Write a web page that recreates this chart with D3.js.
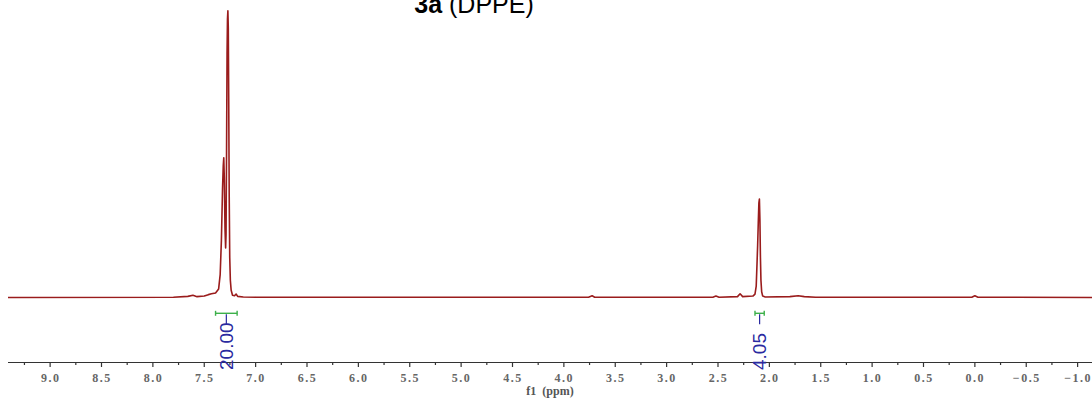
<!DOCTYPE html>
<html><head><meta charset="utf-8">
<script src="https://cdn.jsdelivr.net/npm/d3@7"></script>
<style>html,body{margin:0;padding:0;background:#fff;overflow:hidden}</style>
</head><body>
<svg id="chart" width="1092" height="401"></svg>
<script>
// spectrum points: chemical shift (ppm) and relative intensity
const shiftPpm = [9.41, 7.80, 7.66, 7.61, 7.57, 7.50, 7.46, 7.43, 7.39, 7.36, 7.345, 7.333, 7.322, 7.315, 7.31, 7.305, 7.298, 7.292, 7.288, 7.283, 7.278, 7.274, 7.27, 7.266, 7.262, 7.257, 7.252, 7.246, 7.238, 7.225, 7.205, 7.19, 7.175, 7.12, 7.0, 3.76, 3.725, 3.70, 2.55, 2.52, 2.49, 2.31, 2.285, 2.26, 2.16, 2.14, 2.128, 2.12, 2.114, 2.108, 2.102, 2.097, 2.092, 2.087, 2.082, 2.075, 2.065, 2.04, 1.80, 1.72, 1.66, 1.55, 0.03, 0.0, -0.03, -1.14];
const intensity = [0, 0.1, 0.4, 0.8, 0.3, 0.5, 1.0, 1.3, 1.6, 3, 8, 20, 38, 46, 48.7, 42, 24, 17.3, 22, 50, 85, 97, 100, 94, 70, 35, 14, 6, 2.5, 0.8, 0.6, 1.2, 0.4, 0.2, 0.1, 0.1, 0.6, 0.1, 0.1, 0.5, 0.1, 0.3, 1.3, 0.3, 0.5, 1.2, 4, 12, 18.3, 26, 33, 34.3, 27, 14, 6, 2, 0.5, 0.2, 0.3, 0.6, 0.3, 0.1, 0.1, 0.6, 0.1, 0];
const tickValues = [9.0, 8.5, 8.0, 7.5, 7.0, 6.5, 6.0, 5.5, 5.0, 4.5, 4.0, 3.5, 3.0, 2.5, 2.0, 1.5, 1.0, 0.5, 0.0, -0.5, -1.0];
const tickLabels = ["9.0","8.5","8.0","7.5","7.0","6.5","6.0","5.5","5.0","4.5","4.0","3.5","3.0","2.5","2.0","1.5","1.0","0.5","0.0","\u22120.5","\u22121.0"];
const integralFrom = [7.39, 2.14];
const integralTo = [7.18, 2.05];
const integralLabels = ["20.00", "4.05"];
const titleBold = "3a";
const titleRest = " (DPPE)";
const axisTitle = "f1  (ppm)";

const svg = d3.select("#chart");
const x = d3.scaleLinear().domain([9.41, -1.14]).range([8, 1092]);
const y = d3.scaleLinear().domain([0, 100]).range([297.5, 10.7]);

// spectrum
const pts = shiftPpm.map((p, i) => [p, intensity[i]]);
svg.append("path")
  .datum(pts)
  .attr("fill", "none")
  .attr("stroke", "#9a1c1c")
  .attr("stroke-width", 1.6)
  .attr("stroke-linejoin", "round")
  .attr("d", d3.line().x(d => x(d[0])).y(d => y(d[1])));

// axis
const axisY = 362.5;
const ax = svg.append("g").attr("transform", `translate(0,${axisY})`);
ax.append("line").attr("x1", 8).attr("x2", 1092).attr("stroke", "#333").attr("stroke-width", 1.2);
const minor = d3.range(0, 21).map(i => 9.25 - i * 0.5).filter(v => v > -1.14);
ax.selectAll("line.minor").data(minor).join("line").attr("class", "minor")
  .attr("x1", d => x(d)).attr("x2", d => x(d)).attr("y1", 0).attr("y2", 2.5)
  .attr("stroke", "#333").attr("stroke-width", 1.2);
ax.selectAll("line.major").data(tickValues).join("line").attr("class", "major")
  .attr("x1", d => x(d)).attr("x2", d => x(d)).attr("y1", 0).attr("y2", 4.5)
  .attr("stroke", "#333").attr("stroke-width", 1.2);
ax.selectAll("text.tl").data(tickValues).join("text").attr("class", "tl")
  .attr("x", d => x(d) + 0.5).attr("y", 19)
  .attr("text-anchor", "middle")
  .attr("font-family", "'Liberation Serif', 'DejaVu Serif', serif")
  .attr("font-size", 12)
  .attr("font-weight", "bold")
  .attr("letter-spacing", "1.5px")
  .attr("fill", "#666")
  .text((d, i) => tickLabels[i]);
svg.append("text").attr("x", 550).attr("y", 394.5).attr("text-anchor", "middle")
  .attr("font-family", "'Liberation Serif', 'DejaVu Serif', serif").attr("font-size", 12)
  .attr("font-weight", "bold")
  .attr("fill", "#555").attr("xml:space", "preserve").text(axisTitle);

// integrals
const bracketY = 313.3;
integralFrom.forEach((f, i) => {
  const x1 = x(f), x2 = x(integralTo[i]);
  const g = svg.append("g");
  g.append("line").attr("x1", x1).attr("x2", x2).attr("y1", bracketY).attr("y2", bracketY).attr("stroke", "#3db04a").attr("stroke-width", 1.4);
  [x1, x2].forEach(xx => g.append("line").attr("x1", xx).attr("x2", xx).attr("y1", bracketY - 2.5).attr("y2", bracketY + 2.5).attr("stroke", "#3db04a").attr("stroke-width", 1.4));
  const cx = (x1 + x2) / 2;
  g.append("line").attr("x1", cx).attr("x2", cx).attr("y1", bracketY + 1).attr("y2", bracketY + 11).attr("stroke", "#2a2aa0").attr("stroke-width", 1.2);
  g.append("text")
    .attr("transform", `translate(${cx + 6.5},370) rotate(-90)`)
    .attr("font-family", "'Liberation Sans', Arial, sans-serif")
    .attr("font-size", 19)
    .attr("fill", "#2a2aa0")
    .text(integralLabels[i]);
});

// title (clipped at top, as in the reference)
const t = svg.append("text").attr("x", 474).attr("y", 12.5).attr("text-anchor", "middle")
  .attr("font-family", "'Liberation Sans', Arial, sans-serif").attr("font-size", 25).attr("fill", "#000");
t.append("tspan").attr("font-weight", "bold").text(titleBold);
t.append("tspan").attr("xml:space", "preserve").text(titleRest);
</script>
</body></html>
